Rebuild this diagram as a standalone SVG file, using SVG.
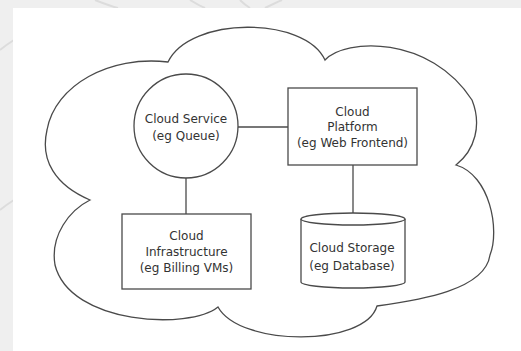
<svg xmlns="http://www.w3.org/2000/svg" width="521" height="351" viewBox="0 0 521 351">
  <style>
    .ln { fill: none; stroke: #4a4a4a; stroke-width: 1.3; }
    .shape { fill: #ffffff; stroke: #4a4a4a; stroke-width: 1.3; }
    .t { font-family: "DejaVu Sans", Verdana, sans-serif; font-size: 12px; fill: #333333; text-anchor: middle; }
    .bg { fill: none; stroke: #dcdcdc; stroke-width: 2; }
  </style>
  <rect x="0" y="0" width="521" height="351" fill="#efefef"/>
  <path class="bg" d="M95,0 Q110,6 118,8 M190,0 Q200,6 205,8 M240,0 Q245,5 250,8 M265,8 Q275,3 282,0 M14,40 Q6,45 0,50 M14,200 Q6,205 0,210"/>
  <rect x="13" y="8" width="508" height="343" fill="#ffffff"/>

  <g id="cloud">
    <path class="shape" d="M168,62 C190,16 305,16 325,60 C345,38 430,35 472,100 C482,125 475,150 456,165 C490,175 500,230 490,255 C485,290 420,300 377,306 C365,347 240,347 218,307 C190,330 70,325 55,265 C50,235 70,210 90,200 C55,185 40,160 47,130 C55,85 110,55 168,62 Z"/>
  </g>

  <g id="connectors">
    <line class="ln" x1="238" y1="127" x2="288" y2="127"/>
    <line class="ln" x1="186" y1="178" x2="186" y2="214"/>
    <line class="ln" x1="353" y1="165" x2="353" y2="213"/>
  </g>

  <g id="cloud-service">
    <circle class="shape" cx="186" cy="126" r="52"/>
    <text class="t" x="186" y="123">Cloud Service</text>
    <text class="t" x="186" y="140">(eg Queue)</text>
  </g>

  <g id="cloud-platform">
    <rect class="shape" x="288" y="88" width="129" height="77"/>
    <text class="t" x="352.5" y="116">Cloud</text>
    <text class="t" x="352.5" y="131">Platform</text>
    <text class="t" x="352.5" y="147">(eg Web Frontend)</text>
  </g>

  <g id="cloud-infrastructure">
    <rect class="shape" x="122" y="214" width="129" height="75"/>
    <text class="t" x="186.5" y="240">Cloud</text>
    <text class="t" x="186.5" y="256">Infrastructure</text>
    <text class="t" x="186.5" y="272">(eg Billing VMs)</text>
  </g>

  <g id="cloud-storage">
    <path class="shape" d="M301,219 L301,282 A52,6 0 0 0 405,282 L405,219"/>
    <ellipse class="shape" cx="353" cy="219" rx="52" ry="6"/>
    <text class="t" x="352" y="252">Cloud Storage</text>
    <text class="t" x="352" y="270">(eg Database)</text>
  </g>
</svg>
